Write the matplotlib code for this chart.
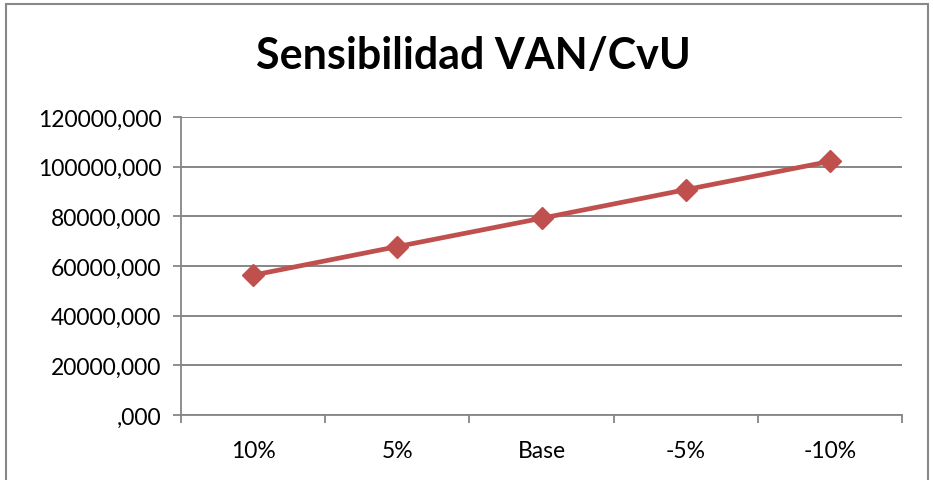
import matplotlib
matplotlib.use("Agg")
import matplotlib.pyplot as plt
from matplotlib.patches import Rectangle
import numpy as np

categories = ["10%", "5%", "Base", "-5%", "-10%"]
van = [56300, 67800, 79200, 90700, 102100]
y_ticks = [0, 20000, 40000, 60000, 80000, 100000, 120000]
y_labels = [",000", "20000,000", "40000,000", "60000,000", "80000,000", "100000,000", "120000,000"]

plt.rcParams["font.family"] = ["Lato", "DejaVu Sans"]
grid_col = "#868686"

fig = plt.figure(figsize=(9.33, 4.81), dpi=100)
ax = fig.add_axes([0.194, 0.135, 0.773, 0.62])

x = np.arange(len(categories))
ax.plot(x, van, color="#C0504D", lw=3.4, marker="D", markersize=11, zorder=3)

ax.set_xlim(-0.5, len(categories) - 0.5)
ax.set_ylim(0, 120000)
ax.set_yticks(y_ticks)
ax.set_yticklabels(y_labels, fontsize=16.5)
ax.set_xticks(x)
ax.set_xticklabels(categories, fontsize=16.5)
ax.set_xticks(np.arange(-0.5, len(categories)), minor=True)
ax.tick_params(axis="x", which="major", length=0, pad=18)
ax.tick_params(axis="x", which="minor", length=6, color=grid_col, width=1.3)
ax.tick_params(axis="y", length=6, color=grid_col, width=1.3, pad=8)

ax.grid(axis="y", color=grid_col, lw=1.4)
ax.set_axisbelow(True)
for s in ["top", "right"]:
    ax.spines[s].set_visible(False)
ax.spines["left"].set_color(grid_col)
ax.spines["bottom"].set_color(grid_col)
ax.spines["left"].set_linewidth(1.3)
ax.spines["bottom"].set_linewidth(1.3)

fig.text(0.507, 0.884, "Sensibilidad VAN/CvU", ha="center", va="center",
         fontsize=31, fontweight="bold")

border = Rectangle((6 / 933, -0.1), 922 / 933, 1.1 - 5 / 481,
                   transform=fig.transFigure, fill=False, ec="#888888", lw=1.5, clip_on=False)
fig.patches.append(border)

fig.savefig("out.png", dpi=100)
